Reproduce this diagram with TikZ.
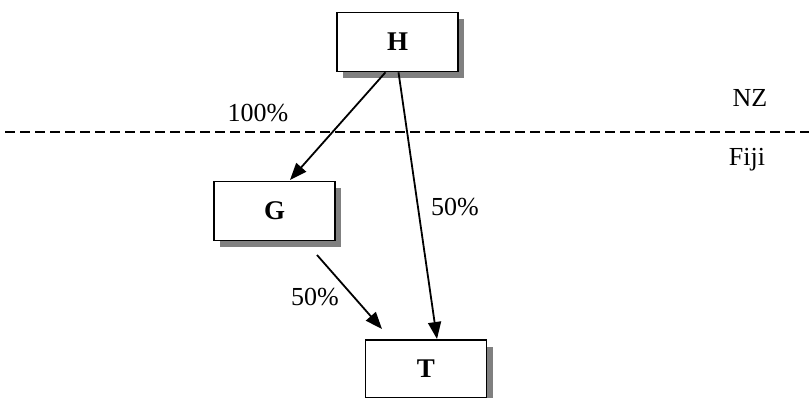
\documentclass[tikz,border=0pt]{standalone}
\usepackage{fontspec}
\setmainfont{Liberation Serif}
\usetikzlibrary{arrows.meta,shadows}
\begin{document}
\begin{tikzpicture}[x=1pt,y=-1pt,
  ent/.style={draw,line width=1.6pt,fill=white,minimum width=121pt,minimum height=59pt,inner sep=0pt,
    font=\fontsize{27}{32}\selectfont\bfseries,
    drop shadow={shadow xshift=6pt,shadow yshift=-7pt,fill=black!50,opacity=1}},
  lbl/.style={font=\fontsize{26}{31}\selectfont,inner sep=0pt},
  arr/.style={line width=1.8pt,-{Triangle[length=17pt,width=13pt]}}]
\useasboundingbox (0,0) rectangle (809,398);
\node[ent] (H) at (397.5,42) {H};
\node[ent] (G) at (274.5,211) {G};
\node[ent,minimum height=58pt] (T) at (426,369) {T};
\coordinate (L1) at (5,132);
\coordinate (L2) at (809,132);
\draw[line width=1.3pt,dash pattern=on 10pt off 5pt] (L1) -- (L2);
\node[lbl] (nz) at (750,98) {NZ};
\node[lbl] (fj) at (747,160) {Fiji};
\node[lbl] (p1) at (258,113) {100\%};
\node[lbl] (p2) at (455,207) {50\%};
\node[lbl] (p3) at (315,297) {50\%};
\draw[arr] ([xshift=-12pt]H.south) -- (290,180);
\draw[arr] ([xshift=1pt]H.south) -- (437,339);
\draw[arr] (317,255) -- (382,329);
\end{tikzpicture}
\end{document}
